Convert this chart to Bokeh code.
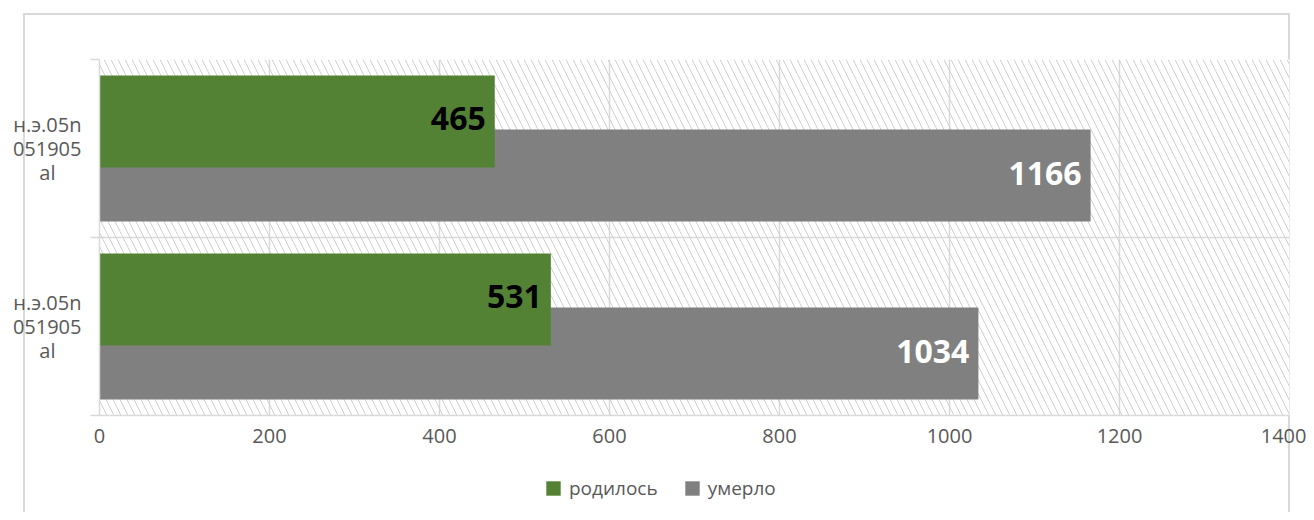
from bokeh.plotting import figure
from bokeh.models import Range1d, FixedTicker, ColumnDataSource, Legend, LegendItem
from bokeh.layouts import column
from bokeh.core.properties import value
from bokeh.embed import file_html
from bokeh.resources import INLINE

# ---- data (top category first) ----
categories = ["н.э.05n\n051905\nal", "н.э.05n\n051905\nal"]
born = [465, 531]
died = [1166, 1034]
series_names = ["родилось", "умерло"]
x_ticks = [0, 200, 400, 600, 800, 1000, 1200, 1400]

GREEN = "#548235"
GREY = "#808080"
GRID = "#d9d9d9"
TXT = "#595959"
FONT = "Open Sans"
NB = "\u00a0"

n = len(categories)
centers = [n - i - 0.5 for i in range(n)]
off = 0.152
bar_h = 0.517

W = 1306
p = figure(width=W, height=460, output_backend="svg", toolbar_location=None,
           x_range=Range1d(x_ticks[0], x_ticks[-1]), y_range=Range1d(0, n),
           min_border_left=99, min_border_right=17, min_border_top=59,
           min_border_bottom=45)
p.outline_line_color = None
p.background_fill_color = "white"
p.border_fill_color = None

# hatched plot-area background
p.quad(left=[x_ticks[0]], right=[x_ticks[-1]], bottom=[0], top=[n],
       fill_alpha=0, line_color=None, hatch_pattern="\\", hatch_color="#d0d0d0",
       hatch_scale=14, hatch_weight=1)

src = ColumnDataSource(dict(
    y_born=[c + off for c in centers], y_died=[c - off for c in centers],
    born=born, died=died,
    born_txt=[str(v) for v in born], died_txt=[str(v) for v in died]))

r_died = p.hbar(y="y_died", right="died", left=0, height=bar_h, source=src,
                fill_color=GREY, line_color=None)
r_born = p.hbar(y="y_born", right="born", left=0, height=bar_h, source=src,
                fill_color=GREEN, line_color=None)

p.text(x="born", y="y_born", text="born_txt", source=src, text_align="right",
       text_baseline="middle", x_offset=-9, y_offset=-3, text_color="black",
       text_font=value(FONT), text_font_style="bold", text_font_size="32px")
p.text(x="died", y="y_died", text="died_txt", source=src, text_align="right",
       text_baseline="middle", x_offset=-9, y_offset=-2, text_color="white",
       text_font=value(FONT), text_font_style="bold", text_font_size="32px")

# x axis
xa = p.xaxis[0]
xa.ticker = FixedTicker(ticks=x_ticks)
xa.axis_line_color = GRID
xa.axis_line_width = 1.5
xa.major_tick_line_color = None
xa.minor_tick_line_color = None
xa.major_tick_out = 0
xa.major_label_text_color = TXT
xa.major_label_text_font = FONT
xa.major_label_text_font_size = "20px"
xa.major_label_standoff = 13

# y axis (category labels, short lines centred with non-breaking-space padding)
def pad(label):
    lines = label.split("\n")
    return "\n".join(l + (NB * 5 if len(l) <= 3 else "") for l in lines)

ya = p.yaxis[0]
ya.ticker = FixedTicker(ticks=centers, minor_ticks=list(range(n + 1)))
ya.major_label_overrides = {c: pad(lab) for c, lab in zip(centers, categories)}
ya.axis_line_color = GRID
ya.axis_line_width = 1.5
ya.major_tick_line_color = None
ya.major_tick_out = 0
ya.minor_tick_line_color = GRID
ya.minor_tick_line_width = 1.5
ya.minor_tick_out = 9
ya.minor_tick_in = 0
ya.major_label_text_color = TXT
ya.major_label_text_font = FONT
ya.major_label_text_font_size = "20px"
ya.major_label_text_line_height = 0.88
ya.major_label_standoff = 9

p.xgrid.ticker = FixedTicker(ticks=x_ticks)
p.xgrid.grid_line_color = GRID
p.xgrid.grid_line_width = 1.5
p.ygrid.ticker = FixedTicker(ticks=list(range(n + 1)))
p.ygrid.grid_line_color = GRID
p.ygrid.grid_line_width = 1.5

# ---- legend row (separate strip under the chart) ----
pl = figure(width=W, height=52, output_backend="svg", toolbar_location=None,
            x_range=Range1d(0, 1), y_range=Range1d(0, 1),
            x_axis_location=None, y_axis_location=None,
            min_border_left=0, min_border_right=0, min_border_top=0,
            min_border_bottom=0)
pl.outline_line_color = None
pl.grid.visible = False
pl.background_fill_color = None
pl.border_fill_color = None
lg_src = ColumnDataSource(dict(y=[-5], right=[0]))   # off-screen swatch carriers
lr_born = pl.hbar(y="y", right="right", height=0.5, source=lg_src,
                  fill_color=GREEN, line_color=None)
lr_died = pl.hbar(y="y", right="right", height=0.5, source=lg_src,
                  fill_color=GREY, line_color=None)
legend = Legend(items=[LegendItem(label=series_names[0], renderers=[lr_born]),
                       LegendItem(label=series_names[1], renderers=[lr_died])],
                orientation="horizontal", location=(445, 11))
legend.padding = 0
legend.margin = 0
legend.border_line_color = None
legend.background_fill_alpha = 0
legend.glyph_width = 18
legend.glyph_height = 18
legend.label_standoff = 7
legend.spacing = 25
legend.label_text_font = FONT
legend.label_text_font_size = "19px"
legend.label_text_color = TXT
pl.add_layout(legend)

lay = column(p, pl, spacing=0)
# outer chart-area border (page background behind the transparent canvases)
line = "linear-gradient(#d9d9d9,#d9d9d9)"
lay.styles = {
    "background": (f"{line} 23px 13px / 2px 100% no-repeat, "
                   f"{line} 23px 13px / 1267px 2px no-repeat, "
                   f"{line} 1288px 13px / 2px 100% no-repeat, white"),
}

open("out.html", "w").write(file_html(lay, INLINE))
